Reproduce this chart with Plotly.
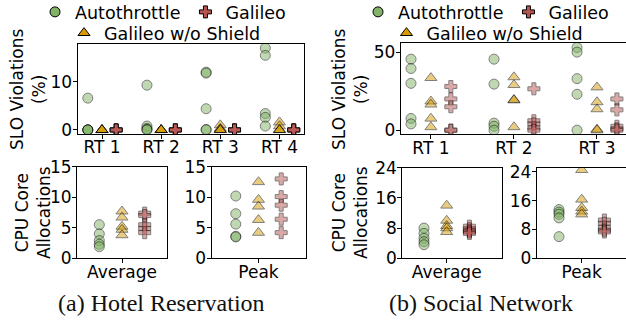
import plotly.graph_objects as go

W, H = 626, 324

# ---- data -------------------------------------------------------------
hotel_rts = ["RT 1", "RT 2", "RT 3", "RT 4"]
social_rts = ["RT 1", "RT 2", "RT 3"]
cpu_labels = ["Average", "Peak"]

# SLO violations (%) per request type, five runs each
hotel_slo_autothrottle = [[6.6, 0, 0, 0, 0], [9.3, 0.8, 0.3, 0.1, 0],
                          [12.0, 11.8, 4.4, 0.1, 0], [17.0, 15.5, 3.4, 2.6, 0.8]]
hotel_slo_noshield = [[0, 0, 0, 0, 0], [0, 0, 0, 0, 0],
                      [1.0, 0.3, 0, 0, 0], [1.6, 0.8, 0, 0, 0]]
hotel_slo_galileo = [[0, 0, 0, 0, 0], [0, 0, 0, 0, 0],
                     [0, 0, 0, 0, 0], [0, 0, 0, 0, 0]]

social_slo_autothrottle = [[45.5, 39.5, 30.0, 7.5, 4.0], [45.5, 29.5, 4.5, 2.5, 0],
                           [53.0, 50.0, 33.0, 23.0, 0]]
social_slo_noshield = [[33.5, 18.5, 16.5, 7.5, 2.0], [34.0, 29.0, 19.5, 19.2, 2.0],
                       [27.5, 18.0, 13.5, 0.5, 0]]
social_slo_galileo = [[28.0, 20.0, 15.0, 0, 0], [26.5, 6.0, 4.0, 1.5, 0],
                      [20.0, 13.0, 2.5, 0.8, 0]]

# CPU core allocations: [average, peak], five runs each
hotel_cpu_autothrottle = [[5.5, 4.0, 2.9, 2.3, 1.9], [10.2, 7.3, 5.6, 3.6, 3.5]]
hotel_cpu_noshield = [[7.7, 6.7, 5.2, 4.7, 3.8], [12.5, 9.6, 8.5, 6.3, 4.2]]
hotel_cpu_galileo = [[7.4, 7.0, 5.5, 4.9, 4.2], [13.0, 10.1, 8.7, 6.4, 4.2]]

social_cpu_autothrottle = [[8.0, 6.6, 5.3, 4.4, 3.6], [13.5, 12.8, 12.2, 11.2, 6.0]]
social_cpu_noshield = [[14.0, 10.0, 8.6, 8.0, 7.0], [24.5, 16.3, 14.0, 13.0, 12.2]]
social_cpu_galileo = [[8.5, 7.8, 7.3, 7.0, 6.6], [10.6, 9.7, 8.6, 7.8, 7.3]]

# ---- styling ----------------------------------------------------------
FONT = "DejaVu Sans"
COLORS = {"Autothrottle": "#82b366", "Galileo w/o Shield": "#d79b00", "Galileo": "#b85450"}
SYMBOLS = {"Autothrottle": "circle", "Galileo w/o Shield": "triangle-up", "Galileo": "cross"}
SIZES = {"Autothrottle": 10, "Galileo w/o Shield": 10.5, "Galileo": 10}
OFFSET = {"Autothrottle": -0.24, "Galileo w/o Shield": 0.0, "Galileo": 0.24}


def px_x(a, b):
    return [a / W, min(b / W, 1.0)]


def px_y(top, bottom):
    return [1 - bottom / H, 1 - top / H]


fig = go.Figure()


def add_group(series, axis_id, positions):
    """series: dict name -> list (per category) of run values."""
    xa = "x" if axis_id == 1 else f"x{axis_id}"
    ya = "y" if axis_id == 1 else f"y{axis_id}"
    for name, per_cat in series.items():
        xs, ys = [], []
        for pos, vals in zip(positions, per_cat):
            for v in vals:
                xs.append(pos + OFFSET[name])
                ys.append(v)
        fig.add_trace(go.Scatter(
            x=xs, y=ys, mode="markers", xaxis=xa, yaxis=ya, showlegend=False,
            marker=dict(symbol=SYMBOLS[name], size=SIZES[name], color=COLORS[name],
                        opacity=0.5, line=dict(color="black", width=1)),
            hoverinfo="skip"))


# top row: SLO violations
add_group({"Autothrottle": hotel_slo_autothrottle,
           "Galileo w/o Shield": hotel_slo_noshield,
           "Galileo": hotel_slo_galileo}, 1, list(range(len(hotel_rts))))
add_group({"Autothrottle": social_slo_autothrottle,
           "Galileo w/o Shield": social_slo_noshield,
           "Galileo": social_slo_galileo}, 2, list(range(len(social_rts))))

# bottom row: CPU allocations, one panel per statistic
for k, axis_id in enumerate([3, 4]):
    add_group({"Autothrottle": [hotel_cpu_autothrottle[k]],
               "Galileo w/o Shield": [hotel_cpu_noshield[k]],
               "Galileo": [hotel_cpu_galileo[k]]}, axis_id, [0])
for k, axis_id in enumerate([5, 6]):
    add_group({"Autothrottle": [social_cpu_autothrottle[k]],
               "Galileo w/o Shield": [social_cpu_noshield[k]],
               "Galileo": [social_cpu_galileo[k]]}, axis_id, [0])

# legend entries (solid markers), two rows above each panel group
legend_rows = [("legend", ["Autothrottle", "Galileo"]),
               ("legend2", ["Galileo w/o Shield"]),
               ("legend3", ["Autothrottle", "Galileo"]),
               ("legend4", ["Galileo w/o Shield"])]
for leg, names in legend_rows:
    for name in names:
        fig.add_trace(go.Scatter(
            x=[None], y=[None], mode="markers", name=name, legend=leg,
            marker=dict(symbol=SYMBOLS[name], size=SIZES[name], color=COLORS[name],
                        line=dict(color="black", width=1))))

axis_common = dict(showline=True, linecolor="black", linewidth=1, ticks="outside",
                   ticklen=4, tickwidth=1, tickcolor="black", showgrid=False,
                   zeroline=False, tickfont=dict(family=FONT, size=17, color="black"))


def set_axes(axis_id, xdom, ydom, xrange, yrange, tickvals, ticktext, ytickvals, right_edge=True):
    sfx = "" if axis_id == 1 else str(axis_id)
    fig.update_layout(**{
        f"xaxis{sfx}": dict(domain=xdom, range=xrange, tickvals=tickvals, ticktext=ticktext,
                            anchor=f"y{sfx}", mirror=True, ticklabelstandoff=-6,
                            **axis_common),
        f"yaxis{sfx}": dict(domain=ydom, range=yrange, tickvals=ytickvals,
                            anchor=f"x{sfx}", mirror=right_edge, ticklabelstandoff=-3,
                            **axis_common),
    })


# top-left: hotel SLO
L1, R1 = 77.5, 304.0
span1 = (R1 - L1)
set_axes(1, px_x(L1, R1), px_y(44, 134), [-0.414, 3.414], [-0.85, 17.85],
         list(range(len(hotel_rts))), hotel_rts, [0, 10])

# top-right: social SLO (panel runs past the right border)
L2 = 400.7
unit2 = span1 / 2.728
set_axes(2, px_x(L2, W), px_y(43, 134.3), [-0.364, -0.364 + (W - L2) / unit2], [-2.66, 55.86],
         list(range(len(social_rts))), social_rts, [0, 50], right_edge=False)

# bottom panels
unit_b = 22.7 / 0.24
set_axes(3, px_x(77, 167), px_y(166.7, 258.3), [-45 / unit_b, 45 / unit_b], [0, 15],
         [0], ["Average"], [0, 5, 10, 15])
set_axes(4, px_x(211.5, 305.5), px_y(166.7, 258.3), [-47 / unit_b, 47 / unit_b], [0, 15],
         [0], ["Peak"], [0, 5, 10, 15])
set_axes(5, px_x(402.3, 502.3), px_y(167.7, 258.3), [-(446.7 - 402.3) / unit_b, (502.3 - 446.7) / unit_b],
         [0, 24], [0], ["Average"], [0, 8, 16, 24])
set_axes(6, px_x(536.7, W), px_y(167.7, 258.3), [-(581.7 - 536.7) / unit_b, (W - 581.7) / unit_b],
         [0, 25.1], [0], ["Peak"], [0, 8, 16, 24], right_edge=False)

legend_common = dict(orientation="h", xanchor="center", yanchor="middle",
                     font=dict(family=FONT, size=17.5, color="black"),
                     bgcolor="rgba(0,0,0,0)", borderwidth=0, itemwidth=30,
                     traceorder="normal", tracegroupgap=0)
fig.update_layout(
    legend=dict(x=163 / W, y=1 - 12 / H, **legend_common),
    legend2=dict(x=165 / W, y=1 - 33 / H, **legend_common),
    legend3=dict(x=486 / W, y=1 - 12 / H, **legend_common),
    legend4=dict(x=487.5 / W, y=1 - 33 / H, **legend_common),
)

# y-axis titles and panel captions
ann = []
for xc, yc, txt in [(28, 89, "SLO Violations<br>(%)"), (350, 89, "SLO Violations<br>(%)"),
                    (33, 213, "CPU Core<br>Allocations"), (350, 213, "CPU Core<br>Allocations")]:
    ann.append(dict(x=xc / W, y=1 - yc / H, xref="paper", yref="paper", text=txt,
                    textangle=-90, showarrow=False, xanchor="center", yanchor="middle",
                    font=dict(family=FONT, size=17, color="black")))
for xc, txt in [(161.7, "(a) Hotel Reservation"), (481, "(b) Social Network")]:
    ann.append(dict(x=xc / W, y=1 - 303 / H, xref="paper", yref="paper", text=txt,
                    showarrow=False, xanchor="center", yanchor="middle",
                    font=dict(family="Liberation Serif", size=24, color="#111111")))

fig.update_layout(width=W, height=H,
                  margin=dict(l=0, r=0, t=0, b=0, autoexpand=False),
                  paper_bgcolor="white", plot_bgcolor="white", annotations=ann)

fig.write_html("out.html")
